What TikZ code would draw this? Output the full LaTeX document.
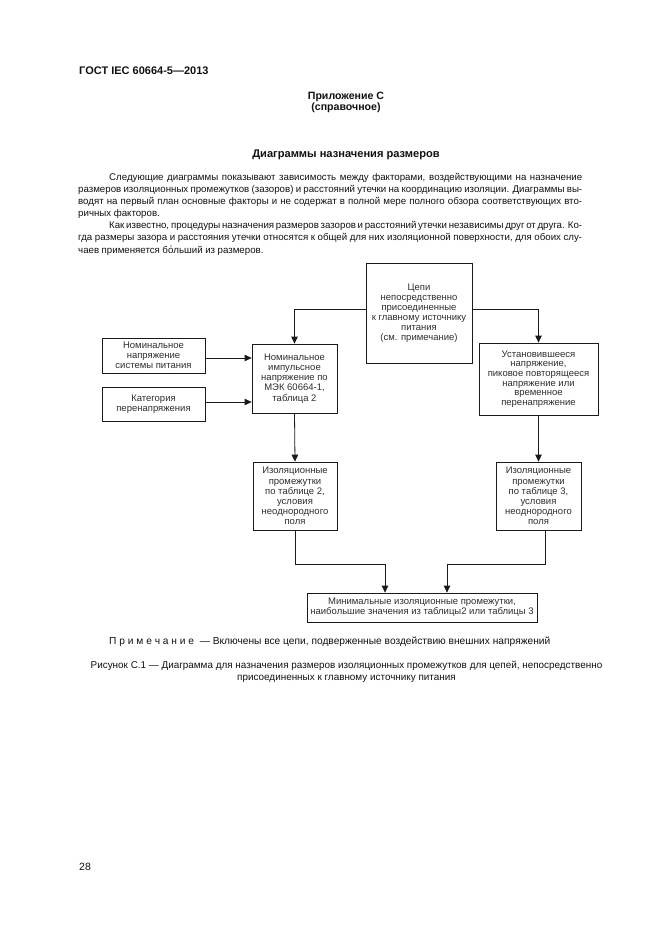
\documentclass[tikz,border=0pt]{standalone}
\usepackage{fontspec}
\setmainfont{Liberation Sans}
\usetikzlibrary{arrows.meta,calc}
\definecolor{linegray}{HTML}{1A1A1A}
\definecolor{diagtext}{HTML}{2E2E2E}
\definecolor{pagetext}{HTML}{111111}
\newcommand\diagfont{\fontsize{9.5}{10.1}\selectfont}
\newcommand\bodyfont{\fontsize{9.7}{12.1}\selectfont}
\tikzset{
  box/.style={draw=linegray, line width=0.8pt, inner sep=0pt, align=center,
              font=\diagfont, text=diagtext},
  conn/.style={draw=linegray, line width=0.8pt},
  arr/.style={conn, -{Triangle[width=6.5pt,length=7pt]}},
  ptext/.style={inner sep=0pt, text=pagetext},
}
\begin{document}
\begin{tikzpicture}[x=1pt,y=-1pt]
\useasboundingbox (0,0) rectangle (661,935);
% page header
\node[ptext, anchor=base west, font=\bfseries\fontsize{11}{12}\selectfont] (hdr) at (79,74) {ГОСТ IEC 60664-5—2013};
\node[ptext, anchor=base, font=\bfseries\fontsize{10.6}{11}\selectfont] (app) at (346,99) {Приложение С};
\node[ptext, anchor=base, font=\bfseries\fontsize{10.6}{11}\selectfont] (appb) at (346,110) {(справочное)};
\node[ptext, anchor=base, font=\bfseries\fontsize{11.1}{12}\selectfont] (ttl) at (346,157.5) {Диаграммы назначения размеров};
% body text
\node[ptext, anchor=north west, text width=504pt, align=justify, font=\bodyfont] (body) at (78,173)
{\hyphenpenalty=10000\exhyphenpenalty=10000\emergencystretch=20pt
\spaceskip=0.26em plus 0.6em minus 0.1em
\hspace*{31pt}Следующие диаграммы показывают зависимость между факторами, воздействующими на назначение\linebreak
размеров изоляционных промежутков (зазоров) и расстояний утечки на координацию изоляции. Диаграммы вы-\linebreak
водят на первый план основные факторы и не содержат в полной мере полного обзора соответствующих вто-\linebreak
ричных факторов.\par
\hspace*{31pt}Как известно, процедуры назначения размеров зазоров и расстояний утечки независимы друг от друга. Ко-\linebreak
гда размеры зазора и расстояния утечки относятся к общей для них изоляционной поверхности, для обоих слу-\linebreak
чаев применяется бо́льший из размеров.\par};
% diagram boxes
\node[box, minimum width=106pt, minimum height=100pt] (top) at (419,313)
  {Цепи\\непосредственно\\присоединенные\\к главному источнику\\питания\\(см. примечание)};
\node[box, minimum width=103pt, minimum height=35pt] (sys) at (153.5,355.5)
  {Номинальное\\напряжение\\системы питания};
\node[box, minimum width=103pt, minimum height=34pt] (cat) at (153.5,404)
  {Категория\\перенапряжения};
\node[box, minimum width=85pt, minimum height=69pt] (imp) at (294.5,378.5)
  {Номинальное\\импульсное\\напряжение по\\МЭК 60664-1,\\таблица 2};
\node[box, minimum width=119pt, minimum height=72pt, font=\fontsize{9.5}{9.6}\selectfont] (ust) at (538.5,379)
  {Установившееся\\напряжение,\\пиковое повторящееся\\напряжение или\\временное\\перенапряжение};
\node[box, minimum width=84pt, minimum height=68pt] (izb) at (295,496)
  {Изоляционные\\промежутки\\по таблице 2,\\условия\\неоднородного\\поля};
\node[box, minimum width=85pt, minimum height=68pt] (izc) at (538.5,496)
  {Изоляционные\\промежутки\\по таблице 3,\\условия\\неоднородного\\поля};
\node[box, minimum width=230pt, minimum height=29pt] (mini) at (422,607.5)
  {Минимальные изоляционные промежутки,\\наибольшие значения из таблицы2 или таблицы 3};
% connectors
\draw[arr] ([yshift=4pt]top.west) -| (imp.north);
\draw[arr] ([yshift=4pt]top.east) -| (ust.north);
\draw[arr] ([yshift=-2.5pt]sys.east) -- ([yshift=-2.5pt]sys.east -| imp.west);
\draw[arr] ([yshift=2pt]cat.east) -- ([yshift=2pt]cat.east -| imp.west);
\draw[arr] (imp.south) -- (izb.north);
\draw[arr] (ust.south) -- (izc.north);
\draw[arr] (izb.south) |- ++(0,34) -| ([xshift=-37pt]mini.north);
\draw[arr] ([xshift=6.5pt]izc.south) |- ++(0,34) -| ([xshift=25pt]mini.north);
% note and caption
\node[ptext, anchor=base west, font=\fontsize{10.2}{11}\selectfont] (note) at (109,644)
  {П р и м е ч а н и е\ \ — Включены все цепи, подверженные воздействию внешних напряжений};
\node[ptext, anchor=base, font=\fontsize{9.9}{12}\selectfont] (cap) at (346.5,668)
  {Рисунок С.1 — Диаграмма для назначения размеров изоляционных промежутков для цепей, непосредственно};
\node[ptext, anchor=base, font=\fontsize{9.9}{12}\selectfont] (capb) at (346.5,680)
  {присоединенных к главному источнику питания};
\node[ptext, anchor=base west, font=\fontsize{10.5}{12}\selectfont] (pg) at (79,870) {28};
\end{tikzpicture}
\end{document}
